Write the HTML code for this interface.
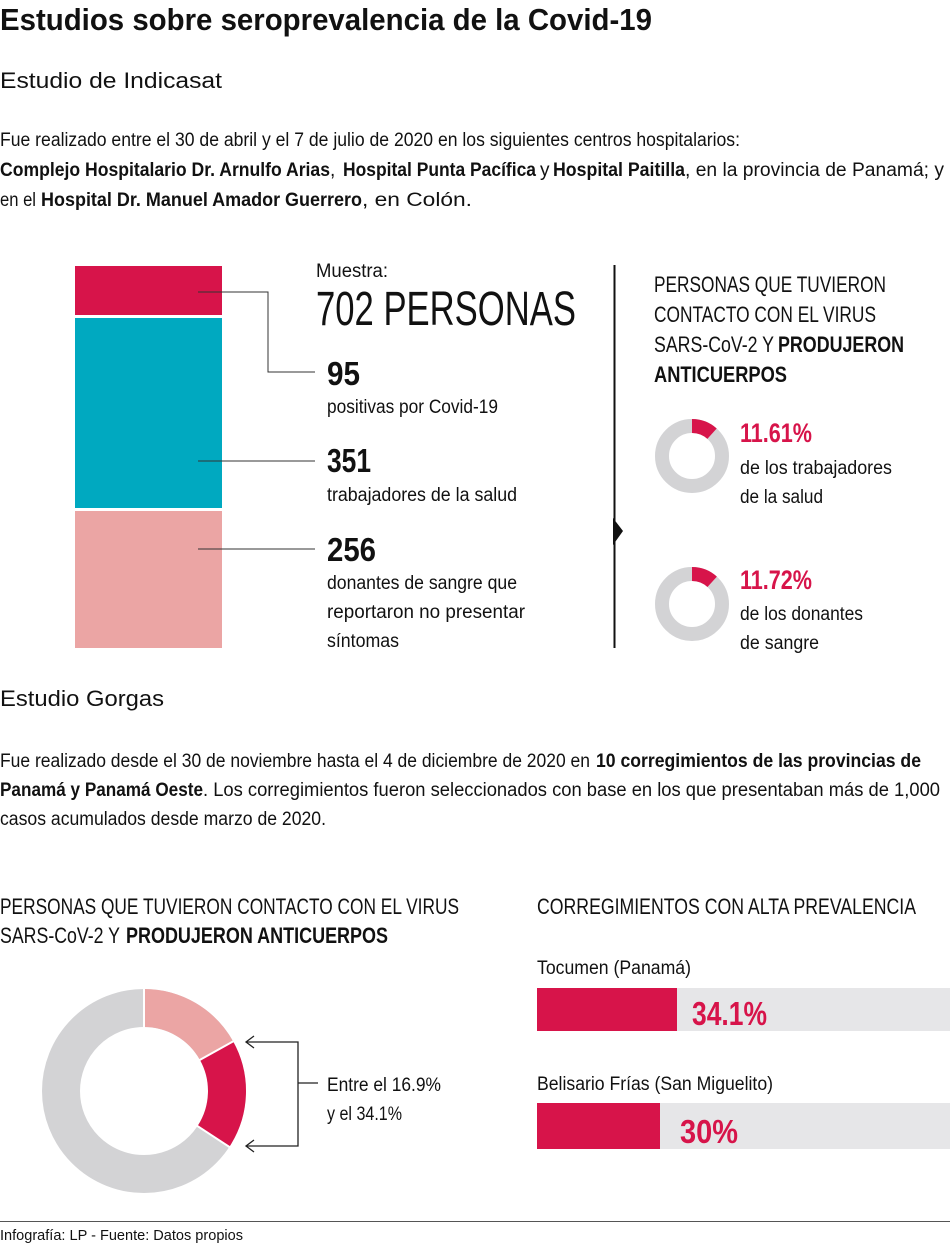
<!DOCTYPE html>
<html><head><meta charset="utf-8"><style>
html,body{margin:0;padding:0;background:#fff;}
svg{display:block;}
text{font-family:"Liberation Sans Narrow","Liberation Sans",sans-serif;fill:#111;}
.b{font-weight:bold;}
.r{fill:#d7144a;}
</style></head><body>
<svg width="950" height="1244" viewBox="0 0 950 1244" xmlns="http://www.w3.org/2000/svg">
<g>
<text x="0" y="30" font-size="31" class="b" textLength="652" lengthAdjust="spacingAndGlyphs">Estudios sobre seroprevalencia de la Covid-19</text>
<text x="0" y="88" font-size="22" textLength="222" lengthAdjust="spacingAndGlyphs">Estudio de Indicasat</text>

<text x="0" y="146" font-size="19" textLength="740" lengthAdjust="spacingAndGlyphs">Fue realizado entre el 30 de abril y el 7 de julio de 2020 en los siguientes centros hospitalarios:</text>
<text x="0" y="176" font-size="19" class="b" textLength="330" lengthAdjust="spacingAndGlyphs">Complejo Hospitalario Dr. Arnulfo Arias</text>
<text x="330" y="176" font-size="19">,</text>
<text x="343" y="176" font-size="19" class="b" textLength="193" lengthAdjust="spacingAndGlyphs">Hospital Punta Pacífica</text>
<text x="540" y="176" font-size="19">y</text>
<text x="553" y="176" font-size="19" class="b" textLength="132" lengthAdjust="spacingAndGlyphs">Hospital Paitilla</text>
<text x="685" y="176" font-size="19" textLength="259" lengthAdjust="spacingAndGlyphs">, en la provincia de Panamá; y</text>
<text x="0" y="206" font-size="19" textLength="36" lengthAdjust="spacingAndGlyphs">en el</text>
<text x="41" y="206" font-size="19" class="b" textLength="321" lengthAdjust="spacingAndGlyphs">Hospital Dr. Manuel Amador Guerrero</text>
<text x="362" y="206" font-size="19" textLength="110" lengthAdjust="spacingAndGlyphs">, en Colón.</text>

<rect x="75" y="266" width="147" height="49" fill="#d7144a"/>
<rect x="75" y="318" width="147" height="190" fill="#00a9c0"/>
<rect x="75" y="511" width="147" height="137" fill="#eba5a4"/>
<polyline points="198,292 268,292 268,372 315,372" fill="none" stroke="#333" stroke-width="1"/>
<line x1="198" y1="461" x2="315" y2="461" stroke="#333" stroke-width="1"/>
<line x1="198" y1="549" x2="315" y2="549" stroke="#333" stroke-width="1"/>

<text x="316" y="277" font-size="19" textLength="72" lengthAdjust="spacingAndGlyphs">Muestra:</text>
<text x="316" y="325" font-size="48" textLength="260" lengthAdjust="spacingAndGlyphs">702 PERSONAS</text>
<text x="327" y="385" font-size="33" class="b" textLength="33" lengthAdjust="spacingAndGlyphs">95</text>
<text x="327" y="413" font-size="19" textLength="171" lengthAdjust="spacingAndGlyphs">positivas por Covid-19</text>
<text x="327" y="472" font-size="33" class="b" textLength="44" lengthAdjust="spacingAndGlyphs">351</text>
<text x="327" y="501" font-size="19" textLength="190" lengthAdjust="spacingAndGlyphs">trabajadores de la salud</text>
<text x="327" y="561" font-size="33" class="b" textLength="49" lengthAdjust="spacingAndGlyphs">256</text>
<text x="327" y="589" font-size="19" textLength="190" lengthAdjust="spacingAndGlyphs">donantes de sangre que</text>
<text x="327" y="618" font-size="19" textLength="198" lengthAdjust="spacingAndGlyphs">reportaron no presentar</text>
<text x="327" y="647" font-size="19" textLength="72" lengthAdjust="spacingAndGlyphs">síntomas</text>

<line x1="614.5" y1="265" x2="614.5" y2="648" stroke="#111" stroke-width="2"/>
<polygon points="613,518 623,531 613,545" fill="#111"/>

<text x="654" y="292" font-size="22" textLength="232" lengthAdjust="spacingAndGlyphs">PERSONAS QUE TUVIERON</text>
<text x="654" y="322" font-size="22" textLength="222" lengthAdjust="spacingAndGlyphs">CONTACTO CON EL VIRUS</text>
<text x="654" y="352" font-size="22" textLength="120" lengthAdjust="spacingAndGlyphs">SARS-CoV-2 Y</text>
<text x="778" y="352" font-size="22" class="b" textLength="126" lengthAdjust="spacingAndGlyphs">PRODUJERON</text>
<text x="654" y="382" font-size="22" class="b" textLength="133" lengthAdjust="spacingAndGlyphs">ANTICUERPOS</text>

<circle cx="692" cy="456" r="30" fill="none" stroke="#d3d3d5" stroke-width="14"/>
<circle cx="692" cy="456" r="30" fill="none" stroke="#d7144a" stroke-width="14" stroke-dasharray="21.9 200" transform="rotate(-90 692 456)"/>
<text x="740" y="442" font-size="27" class="b r" textLength="72" lengthAdjust="spacingAndGlyphs">11.61%</text>
<text x="740" y="474" font-size="19" textLength="152" lengthAdjust="spacingAndGlyphs">de los trabajadores</text>
<text x="740" y="503" font-size="19" textLength="83" lengthAdjust="spacingAndGlyphs">de la salud</text>

<circle cx="692" cy="604" r="30" fill="none" stroke="#d3d3d5" stroke-width="14"/>
<circle cx="692" cy="604" r="30" fill="none" stroke="#d7144a" stroke-width="14" stroke-dasharray="22.1 200" transform="rotate(-90 692 604)"/>
<text x="740" y="589" font-size="27" class="b r" textLength="72" lengthAdjust="spacingAndGlyphs">11.72%</text>
<text x="740" y="620" font-size="19" textLength="123" lengthAdjust="spacingAndGlyphs">de los donantes</text>
<text x="740" y="649" font-size="19" textLength="79" lengthAdjust="spacingAndGlyphs">de sangre</text>

<text x="0" y="706" font-size="22" textLength="164" lengthAdjust="spacingAndGlyphs">Estudio Gorgas</text>
<text x="0" y="767" font-size="19" textLength="590" lengthAdjust="spacingAndGlyphs">Fue realizado desde el 30 de noviembre hasta el 4 de diciembre de 2020 en</text>
<text x="596" y="767" font-size="19" class="b" textLength="325" lengthAdjust="spacingAndGlyphs">10 corregimientos de las provincias de</text>
<text x="0" y="796" font-size="19" class="b" textLength="203" lengthAdjust="spacingAndGlyphs">Panamá y Panamá Oeste</text>
<text x="203" y="796" font-size="19" textLength="737" lengthAdjust="spacingAndGlyphs">. Los corregimientos fueron seleccionados con base en los que presentaban más de 1,000</text>
<text x="0" y="825" font-size="19" textLength="326" lengthAdjust="spacingAndGlyphs">casos acumulados desde marzo de 2020.</text>

<text x="0" y="914" font-size="22" textLength="459" lengthAdjust="spacingAndGlyphs">PERSONAS QUE TUVIERON CONTACTO CON EL VIRUS</text>
<text x="0" y="943" font-size="22" textLength="120" lengthAdjust="spacingAndGlyphs">SARS-CoV-2 Y</text>
<text x="126" y="943" font-size="22" class="b" textLength="262" lengthAdjust="spacingAndGlyphs">PRODUJERON ANTICUERPOS</text>
<text x="537" y="914" font-size="22" textLength="379" lengthAdjust="spacingAndGlyphs">CORREGIMIENTOS CON ALTA PREVALENCIA</text>

<circle cx="144" cy="1091" r="83" fill="none" stroke="#d3d3d5" stroke-width="38"/>
<circle cx="144" cy="1091" r="83" fill="none" stroke="#eba5a4" stroke-width="38" stroke-dasharray="88.1 600" transform="rotate(-90 144 1091)"/>
<circle cx="144" cy="1091" r="83" fill="none" stroke="#d7144a" stroke-width="38" stroke-dasharray="89.7 600" transform="rotate(-29.2 144 1091)"/>
<line x1="144" y1="1091" x2="144" y2="985" stroke="#fff" stroke-width="2"/>
<line x1="144" y1="1091" x2="241" y2="1037" stroke="#fff" stroke-width="2"/>
<line x1="144" y1="1091" x2="234" y2="1150" stroke="#fff" stroke-width="2"/>

<polyline points="246,1042 298,1042 298,1146 246,1146" fill="none" stroke="#222" stroke-width="1.3"/>
<polyline points="254,1036 246,1042 254,1048" fill="none" stroke="#222" stroke-width="1.3"/>
<polyline points="254,1140 246,1146 254,1152" fill="none" stroke="#222" stroke-width="1.3"/>
<line x1="298" y1="1083" x2="318" y2="1083" stroke="#222" stroke-width="1.3"/>
<text x="327" y="1091" font-size="19" textLength="114" lengthAdjust="spacingAndGlyphs">Entre el 16.9%</text>
<text x="327" y="1120" font-size="19" textLength="75" lengthAdjust="spacingAndGlyphs">y el 34.1%</text>

<text x="537" y="974" font-size="19" textLength="154" lengthAdjust="spacingAndGlyphs">Tocumen (Panamá)</text>
<rect x="537" y="988" width="413" height="43" fill="#e6e6e8"/>
<rect x="537" y="988" width="140" height="43" fill="#d7144a"/>
<text x="692" y="1025" font-size="33" class="b r" textLength="75" lengthAdjust="spacingAndGlyphs">34.1%</text>
<text x="537" y="1090" font-size="19" textLength="236" lengthAdjust="spacingAndGlyphs">Belisario Frías (San Miguelito)</text>
<rect x="537" y="1103" width="413" height="46" fill="#e6e6e8"/>
<rect x="537" y="1103" width="123" height="46" fill="#d7144a"/>
<text x="680" y="1143" font-size="33" class="b r" textLength="58" lengthAdjust="spacingAndGlyphs">30%</text>

<line x1="0" y1="1221.5" x2="950" y2="1221.5" stroke="#555" stroke-width="1"/>
<text x="0" y="1240" font-size="15" textLength="243" lengthAdjust="spacingAndGlyphs" fill="#333">Infografía: LP - Fuente: Datos propios</text>
</g>
</svg>
</body></html>
